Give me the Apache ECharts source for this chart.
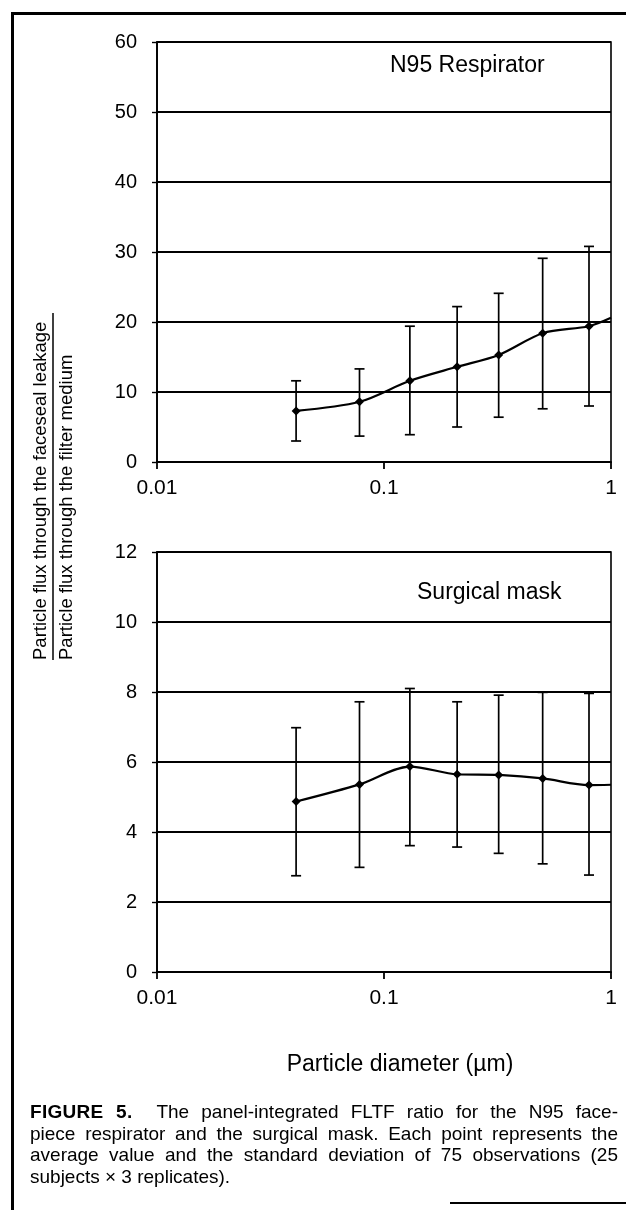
<!DOCTYPE html>
<html>
<head>
<meta charset="utf-8">
<script src="https://cdn.jsdelivr.net/npm/echarts@6/dist/echarts.min.js"></script>
<style>
  html, body { margin: 0; padding: 0; background: #fff; }
  #wrap { position: relative; width: 626px; height: 1210px; overflow: hidden; }
  #chart { position: absolute; left: 0; top: 0; width: 626px; height: 1210px; }
  .cap { position: absolute; left: 30px; top: 1101px; width: 588px;
         font-family: 'Liberation Sans', Arial, sans-serif; font-size: 19px;
         line-height: 21.5px; color: #000; }
  .cap .j { text-align: justify; text-align-last: justify; }
  .cap b { letter-spacing: 0.3px; }
</style>
</head>
<body>
<div id="wrap">
  <div id="chart"></div>
  <div class="cap">
    <div class="j"><b>FIGURE 5.</b>&nbsp; The panel-integrated FLTF ratio for the N95 face-</div>
    <div class="j">piece respirator and the surgical mask. Each point represents the</div>
    <div class="j">average value and the standard deviation of 75 observations (25</div>
    <div>subjects × 3 replicates).</div>
  </div>
</div>
<script>
// ---- data ----
const xDiam = [0.041, 0.078, 0.13, 0.21, 0.32, 0.5, 0.8];
const n95Mean  = [7.3, 8.6, 11.6, 13.6, 15.3, 18.4, 19.4];
const n95Upper = [11.6, 13.3, 19.4, 22.2, 24.1, 29.1, 30.8];
const n95Lower = [3.0, 3.7, 3.9, 5.0, 6.4, 7.6, 8.0];
const n95LineEnd = [1.0, 20.6];
const surgMean  = [4.87, 5.36, 5.87, 5.65, 5.63, 5.53, 5.34];
const surgUpper = [6.98, 7.72, 8.1, 7.72, 7.91, 7.99, 7.96];
const surgLower = [2.75, 2.99, 3.61, 3.57, 3.39, 3.09, 2.77];
const surgLineEnd = [1.0, 5.35];
const xTickLabels = ['0.01', '0.1', '1'];
const panelTitles = ['N95 Respirator', 'Surgical mask'];
const xTitle = 'Particle diameter (µm)';
const yTitleTop = 'Particle flux through the faceseal leakage';
const yTitleBottom = 'Particle flux through the filter medium';

const FONT = "'Liberation Sans', Arial, sans-serif";
const chart = echarts.init(document.getElementById('chart'), null, { renderer: 'canvas' });

function xAxisDef(gi) {
  return {
    gridIndex: gi, type: 'log', logBase: 10, min: 0.01, max: 1,
    axisLine: { show: true, lineStyle: { color: '#000', width: 1.8 } },
    axisTick: { show: true, inside: false, length: 7, lineStyle: { color: '#000', width: 1.8 } },
    minorTick: { show: false },
    splitLine: { show: false },
    axisLabel: {
      color: '#000', fontFamily: FONT, fontSize: 21, margin: 16,
      formatter: function (v) { return xTickLabels[Math.round(Math.log10(v)) + 2]; }
    }
  };
}
function yAxisDef(gi, max, interval) {
  return {
    gridIndex: gi, type: 'value', min: 0, max: max, interval: interval,
    axisLine: { show: true, lineStyle: { color: '#000', width: 1.8 } },
    axisTick: { show: true, inside: false, length: 5, lineStyle: { color: '#000', width: 1.4 } },
    splitLine: { show: true, lineStyle: { color: '#000', width: 1.8 } },
    axisLabel: { color: '#000', fontFamily: FONT, fontSize: 20, margin: 20 }
  };
}
function lineData(xs, ys, end) {
  const d = xs.map((x, i) => [x, ys[i]]);
  d.push({ value: end, symbol: 'none' });
  return d;
}
function errData(xs, lo, hi) { return xs.map((x, i) => [x, lo[i], hi[i]]); }
function renderErr(params, api) {
  const x = api.value(0), lo = api.value(1), hi = api.value(2);
  const pHi = api.coord([x, hi]);
  const pLo = api.coord([x, lo]);
  const w = 5;
  const st = { stroke: '#000', lineWidth: 1.7 };
  return {
    type: 'group',
    children: [
      { type: 'line', shape: { x1: pHi[0], y1: pHi[1], x2: pLo[0], y2: pLo[1] }, style: st },
      { type: 'line', shape: { x1: pHi[0] - w, y1: pHi[1], x2: pHi[0] + w, y2: pHi[1] }, style: st },
      { type: 'line', shape: { x1: pLo[0] - w, y1: pLo[1], x2: pLo[0] + w, y2: pLo[1] }, style: st }
    ]
  };
}
function lineSeries(idx, data) {
  return {
    type: 'line', xAxisIndex: idx, yAxisIndex: idx, data: data,
    smooth: 0.3, symbol: 'diamond', symbolSize: 9,
    itemStyle: { color: '#000' },
    lineStyle: { color: '#000', width: 2.2 },
    z: 5, animation: false, clip: false
  };
}
function errSeries(idx, data) {
  return {
    type: 'custom', xAxisIndex: idx, yAxisIndex: idx, data: data,
    encode: { x: 0, y: [1, 2] }, renderItem: renderErr, z: 4, animation: false
  };
}

const titleStyle = { fill: '#000', fontFamily: FONT, fontSize: 23 };

const option = {
  backgroundColor: '#fff',
  animation: false,
  grid: [
    { left: 157, top: 42, width: 454, height: 420, show: true, borderColor: '#000', borderWidth: 1.6, backgroundColor: 'transparent' },
    { left: 157, top: 552, width: 454, height: 420, show: true, borderColor: '#000', borderWidth: 1.6, backgroundColor: 'transparent' }
  ],
  xAxis: [xAxisDef(0), xAxisDef(1)],
  yAxis: [yAxisDef(0, 60, 10), yAxisDef(1, 12, 2)],
  series: [
    errSeries(0, errData(xDiam, n95Lower, n95Upper)),
    lineSeries(0, lineData(xDiam, n95Mean, n95LineEnd)),
    errSeries(1, errData(xDiam, surgLower, surgUpper)),
    lineSeries(1, lineData(xDiam, surgMean, surgLineEnd))
  ],
  graphic: [
    // page frame
    { type: 'rect', shape: { x: 11, y: 12, width: 615, height: 3 }, style: { fill: '#000' } },
    { type: 'rect', shape: { x: 11, y: 12, width: 3, height: 1198 }, style: { fill: '#000' } },
    { type: 'rect', shape: { x: 450, y: 1202, width: 176, height: 2 }, style: { fill: '#000' } },
    // panel titles
    { type: 'text', x: 390, y: 66, style: Object.assign({ text: panelTitles[0], align: 'left', verticalAlign: 'middle' }, titleStyle) },
    { type: 'text', x: 417, y: 593, style: Object.assign({ text: panelTitles[1], align: 'left', verticalAlign: 'middle' }, titleStyle) },
    // x title
    { type: 'text', x: 400, y: 1065, style: { text: xTitle, align: 'center', verticalAlign: 'middle', fill: '#000', fontFamily: FONT, fontSize: 23 } },
    // y title (fraction)
    { type: 'text', x: 41, y: 660, rotation: Math.PI / 2, style: { text: yTitleTop, align: 'left', verticalAlign: 'middle', fill: '#000', fontFamily: FONT, fontSize: 18.5 } },
    { type: 'line', shape: { x1: 53, y1: 313, x2: 53, y2: 660 }, style: { stroke: '#000', lineWidth: 1.5 } },
    { type: 'text', x: 67, y: 660, rotation: Math.PI / 2, style: { text: yTitleBottom, align: 'left', verticalAlign: 'middle', fill: '#000', fontFamily: FONT, fontSize: 18.5 } }
  ]
};
chart.setOption(option);
</script>
</body>
</html>
